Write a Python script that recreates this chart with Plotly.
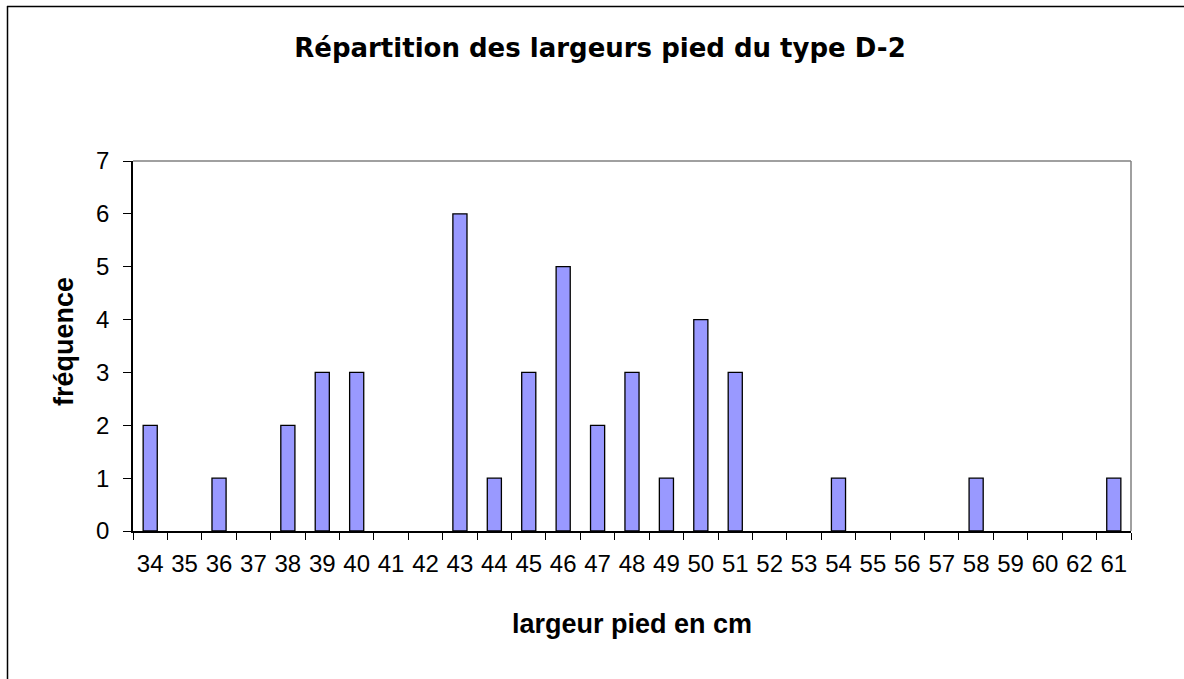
import plotly.graph_objects as go

# Foot width classes (cm) and their frequencies
largeurs = ["34", "35", "36", "37", "38", "39", "40", "41", "42", "43", "44", "45",
            "46", "47", "48", "49", "50", "51", "52", "53", "54", "55", "56", "57",
            "58", "59", "60", "62", "61"]
frequences = [2, 0, 1, 0, 2, 3, 3, 0, 0, 6, 1, 3,
              5, 2, 3, 1, 4, 3, 0, 0, 1, 0, 0, 0,
              1, 0, 0, 0, 1]
y_ticks = [0, 1, 2, 3, 4, 5, 6, 7]

W, H = 1184, 679
L, R, T, B = 133, 1131, 161, 531
ARIAL = "Arial, Liberation Sans, sans-serif"

# empty classes get no outline
outline_w = [1.3 if v > 0 else 0 for v in frequences]

fig = go.Figure(go.Bar(
    x=largeurs,
    y=frequences,
    marker=dict(color="#9999FF", line=dict(color="#000000", width=outline_w)),
))

pw, ph = R - L, B - T

def px(x):
    return (x - L) / pw

def py(y):
    return (B - y) / ph

shapes = [
    # plot area top and right edges
    dict(type="line", xref="paper", yref="paper", x0=0, x1=1, y0=1, y1=1,
         line=dict(color="#808080", width=1.5), layer="below"),
    dict(type="line", xref="paper", yref="paper", x0=1, x1=1, y0=0, y1=1,
         line=dict(color="#808080", width=1.5), layer="below"),
    # chart frame
    dict(type="line", xref="paper", yref="paper", x0=px(7), x1=px(1300), y0=py(6.5), y1=py(6.5),
         line=dict(color="#000000", width=1.5)),
    dict(type="line", xref="paper", yref="paper", x0=px(7.5), x1=px(7.5), y0=py(6), y1=py(800),
         line=dict(color="#000000", width=1.5)),
]

annotations = [
    dict(text="<b>largeur pied en cm</b>", xref="paper", yref="paper",
         x=0.5, y=py(624), xanchor="center", yanchor="middle", showarrow=False,
         font=dict(family=ARIAL, size=27)),
    dict(text="<b>fréquence</b>", xref="paper", yref="paper", textangle=-90,
         x=px(64), y=py(342), xanchor="center", yanchor="middle", showarrow=False,
         font=dict(family=ARIAL, size=27)),
]

fig.update_layout(
    width=W, height=H,
    margin=dict(l=L, r=W - R, t=T, b=H - B, pad=0),
    paper_bgcolor="white", plot_bgcolor="white",
    font=dict(family=ARIAL, color="#000000", size=24),
    bargap=0.59,
    showlegend=False,
    shapes=shapes,
    annotations=annotations,
    title=dict(text="<b>Répartition des largeurs pied du type D-2</b>",
               x=600 / W, xanchor="center", y=1 - 48 / H, yanchor="middle",
               font=dict(family="DejaVu Sans", size=26)),
    xaxis=dict(
        type="category",
        categoryorder="array", categoryarray=largeurs,
        showline=True, linecolor="#000000", linewidth=1.5,
        ticks="outside", ticklen=7, tickcolor="#000000", tickwidth=1.3,
        tickson="boundaries",
        tickangle=0,
        ticklabelstandoff=10,
        showgrid=False, zeroline=False,
        tickfont=dict(size=24),
    ),
    yaxis=dict(
        range=[0, 7], tickvals=y_ticks,
        showline=True, linecolor="#000000", linewidth=1.5,
        ticks="outside", ticklen=8, tickcolor="#000000", tickwidth=1.3,
        ticklabelstandoff=9,
        showgrid=False, zeroline=False,
        tickfont=dict(size=24),
    ),
)

fig.write_html("out.html")
